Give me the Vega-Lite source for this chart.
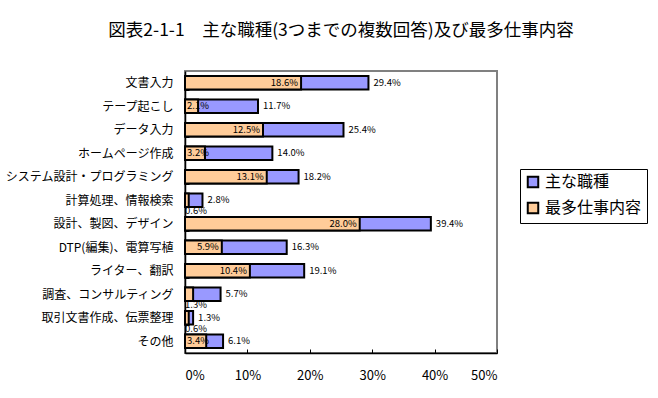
{
  "$schema": "https://vega.github.io/schema/vega-lite/v6.json",
  "width": 312,
  "height": 282,
  "autosize": {"type": "none"},
  "padding": {"left": 185, "top": 71, "right": 161, "bottom": 45},
  "background": "white",
  "title": {
    "text": "図表2-1-1　主な職種(3つまでの複数回答)及び最多仕事内容",
    "font": "Noto Sans CJK JP",
    "fontSize": 17.5,
    "fontWeight": "normal",
    "color": "black",
    "anchor": "middle",
    "offset": 26
  },
  "config": {
    "view": {"stroke": "#808080", "strokeWidth": 2},
    "axis": {"grid": false, "domainColor": "black", "domainWidth": 1.5, "tickColor": "black", "labelColor": "black", "labelFont": "Noto Sans CJK JP"}
  },
  "data": {
    "values": [
      {"c": "文書入力", "main": 0.294, "most": 0.186},
      {"c": "テープ起こし", "main": 0.117, "most": 0.021},
      {"c": "データ入力", "main": 0.254, "most": 0.125},
      {"c": "ホームページ作成", "main": 0.140, "most": 0.032},
      {"c": "システム設計・プログラミング", "main": 0.182, "most": 0.131},
      {"c": "計算処理、情報検索", "main": 0.028, "most": 0.006},
      {"c": "設計、製図、デザイン", "main": 0.394, "most": 0.280},
      {"c": "DTP(編集)、電算写植", "main": 0.163, "most": 0.059},
      {"c": "ライター、翻訳", "main": 0.191, "most": 0.104},
      {"c": "調査、コンサルティング", "main": 0.057, "most": 0.013},
      {"c": "取引文書作成、伝票整理", "main": 0.013, "most": 0.006},
      {"c": "その他", "main": 0.061, "most": 0.034}
    ]
  },
  "encoding": {
    "y": {
      "field": "c",
      "type": "nominal",
      "sort": null,
      "title": null,
      "scale": {"paddingInner": 0.42, "paddingOuter": 0.21},
      "axis": {"labelFontSize": 12, "labelPadding": 16, "tickBand": "extent", "tickSize": -4, "labelLimit": 300}
    }
  },
  "layer": [
    {
      "mark": {"type": "bar", "stroke": "black", "strokeWidth": 2},
      "encoding": {
        "x": {
          "field": "main",
          "type": "quantitative",
          "title": null,
          "scale": {"domain": [0, 0.5], "nice": false},
          "axis": {"values": [0, 0.1, 0.2, 0.3, 0.4, 0.5], "format": ".0%", "labelFontSize": 13, "tickSize": -4, "labelPadding": 20, "labelFont": "Noto Sans CJK JP"}
        },
        "color": {
          "datum": "主な職種",
          "type": "nominal",
          "scale": {"domain": ["主な職種", "最多仕事内容"], "range": ["#9999FF", "#FFCC99"]},
          "legend": {
            "orient": "none",
            "legendX": 335,
            "legendY": 98,
            "title": null,
            "strokeColor": "black",
            "fillColor": "white",
            "padding": 5,
            "symbolType": "square",
            "symbolSize": 110,
            "symbolStrokeColor": "black",
            "symbolStrokeWidth": 2,
            "labelFont": "Noto Sans CJK JP",
            "labelFontSize": 16,
            "labelColor": "black",
            "rowPadding": 6
          }
        }
      }
    },
    {
      "mark": {"type": "bar", "stroke": "black", "strokeWidth": 2},
      "encoding": {
        "x": {"field": "most", "type": "quantitative"},
        "color": {"datum": "最多仕事内容", "type": "nominal"}
      }
    },
    {
      "mark": {"type": "text", "align": "left", "baseline": "middle", "dx": 5, "fontSize": 9.5, "font": "Noto Sans CJK JP", "color": "black"},
      "encoding": {
        "x": {"field": "main", "type": "quantitative"},
        "text": {"field": "main", "type": "quantitative", "format": ".1%"}
      }
    },
    {
      "transform": [{"filter": "datum.most >= 0.05"}],
      "mark": {"type": "text", "align": "right", "baseline": "middle", "dx": -3, "fontSize": 9.5, "font": "Noto Sans CJK JP", "color": "black"},
      "encoding": {
        "x": {"field": "most", "type": "quantitative"},
        "text": {"field": "most", "type": "quantitative", "format": ".1%"}
      }
    },
    {
      "transform": [{"filter": "datum.most >= 0.02 && datum.most < 0.05"}],
      "mark": {"type": "text", "align": "left", "baseline": "middle", "dx": 2, "fontSize": 9.5, "font": "Noto Sans CJK JP", "color": "black"},
      "encoding": {
        "x": {"datum": 0, "type": "quantitative"},
        "text": {"field": "most", "type": "quantitative", "format": ".1%"}
      }
    },
    {
      "transform": [{"filter": "datum.most < 0.02"}],
      "mark": {"type": "text", "align": "left", "baseline": "middle", "dx": 0, "dy": 11, "fontSize": 9.5, "font": "Noto Sans CJK JP", "color": "black"},
      "encoding": {
        "x": {"datum": 0, "type": "quantitative"},
        "text": {"field": "most", "type": "quantitative", "format": ".1%"}
      }
    }
  ]
}
